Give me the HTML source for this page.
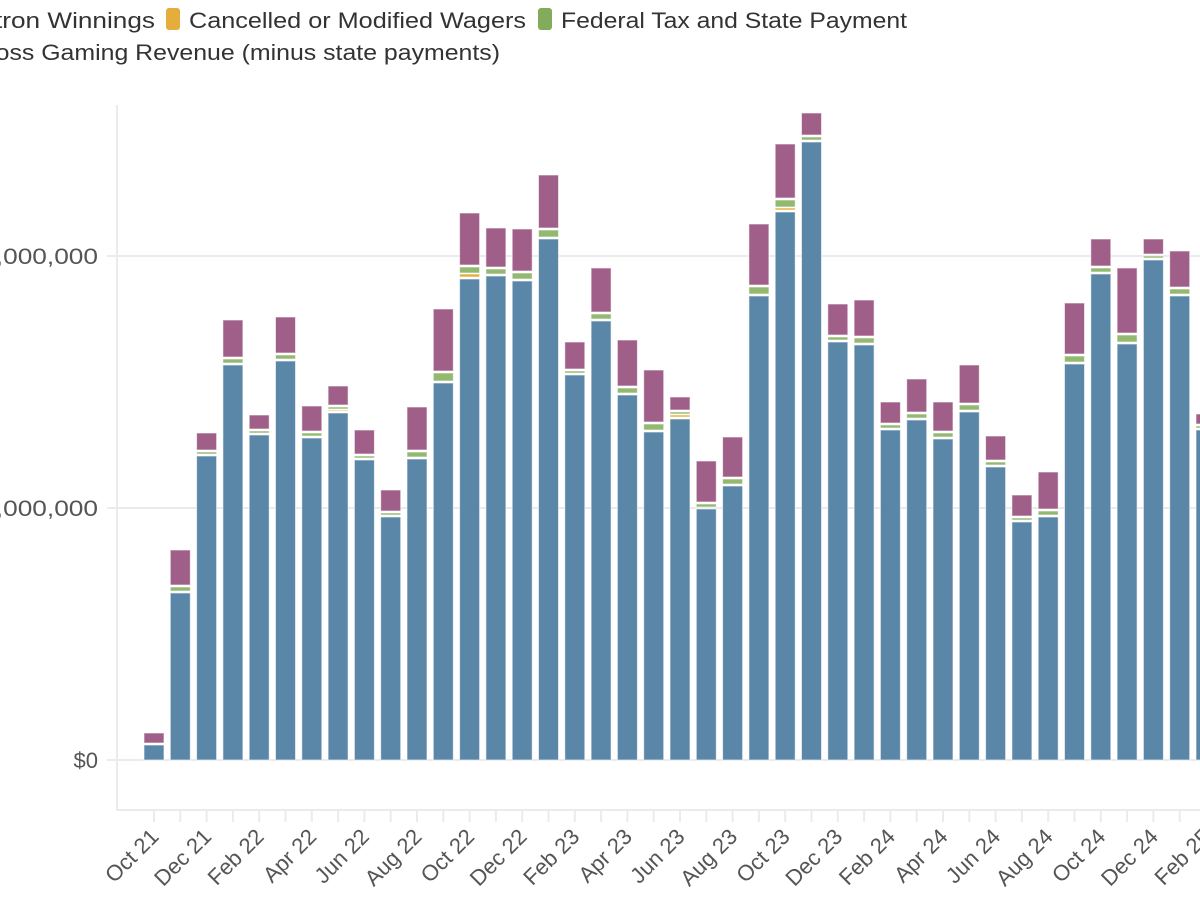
<!DOCTYPE html>
<html><head><meta charset="utf-8"><style>
html,body{margin:0;padding:0;background:#fff;overflow:hidden}
svg{display:block;font-family:"Liberation Sans",sans-serif}
</style></head><body>
<svg id="s" width="1200" height="900" viewBox="0 0 1200 900" xmlns="http://www.w3.org/2000/svg">
<rect width="1200" height="900" fill="#fff"/>
<g stroke="#ebebeb" stroke-width="2">
<line x1="107" y1="256" x2="1200" y2="256"/>
<line x1="107" y1="508" x2="1200" y2="508"/>
<line x1="107" y1="760" x2="1200" y2="760"/>
<line x1="117" y1="105" x2="117" y2="811"/>
<line x1="116" y1="810" x2="1200" y2="810"/>
</g>
<g font-size="22" fill="#555" text-anchor="end">
<text x="98" y="768">$0</text>
<text x="98" y="516" textLength="146" lengthAdjust="spacingAndGlyphs">$10,000,000</text>
<text x="98" y="264" textLength="146" lengthAdjust="spacingAndGlyphs">$20,000,000</text>
</g>
<g font-size="22" fill="#333">
<rect x="-20" y="8" width="13" height="22" rx="3" fill="#a05f88"/>
<text x="155" y="28" text-anchor="end" textLength="192" lengthAdjust="spacingAndGlyphs">Patron Winnings</text>
<rect x="166" y="8" width="14" height="22" rx="3" fill="#e5ad3c"/>
<text x="189" y="28" textLength="337" lengthAdjust="spacingAndGlyphs">Cancelled or Modified Wagers</text>
<rect x="538" y="8" width="14" height="22" rx="3" fill="#82ac5b"/>
<text x="561" y="28" textLength="346" lengthAdjust="spacingAndGlyphs">Federal Tax and State Payment</text>
<text x="500" y="60" text-anchor="end" textLength="532" lengthAdjust="spacingAndGlyphs">Gross Gaming Revenue (minus state payments)</text>
</g>
<g id="bars"></g>
<g id="ax"></g>
</svg>
<script>
var d=[[745,733,0,0],[593,550,4,0],[456,433,2,0],[365,320,4,0],[435,415,2,0],[361,317,4,0],[438,406,3,0],[413,386,2,1],[460,430,2,0],[517,490,2,0],[459,407,5,0],[383,309,8,0],[279,213,6,3],[276,228,5,0],[281,229,6,0],[239,175,7,0],[375,342,2,0],[321,268,5,0],[395,340,5,0],[432,370,6,0],[419,397,2,2],[509,461,3,0],[486,437,5,0],[296,224,7,0],[212,144,7,2],[142,113,3,0],[342,304,3,0],[345,300,5,0],[430,402,3,0],[420,379,4,0],[439,402,4,0],[412,365,5,0],[467,436,3,0],[522,495,2,0],[517,472,4,0],[364,303,6,0],[274,239,4,0],[344,268,7,0],[260,239,2,0],[296,251,5,0],[430,414,2,0]];
var names=["Jan","Feb","Mar","Apr","May","Jun","Jul","Aug","Sep","Oct","Nov","Dec"];
var ns="http://www.w3.org/2000/svg",g=document.getElementById("bars"),ax=document.getElementById("ax");
function r(x,y,w,h,c){if(h<=0)return;var e=document.createElementNS(ns,"rect");e.setAttribute("x",x);e.setAttribute("y",y);e.setAttribute("width",w);e.setAttribute("height",h);e.setAttribute("fill",c);e.setAttribute("stroke","#fff");e.setAttribute("stroke-opacity","0.6");e.setAttribute("stroke-width","1");g.appendChild(e);}
d.forEach(function(v,i){
 var cx=154+i*26.3,x=cx-10,B=v[0],P=v[1],G=v[2],Y=v[3];
 r(x,B,20,760-B,"#5a87a8");
 var t=B-2;
 if(Y){r(x,t-Y,20,Y,"#e5ad3c");t=t-Y-1;}
 if(G){r(x,t-G,20,G,"#93b86f");t=t-G-2;}
 r(x,P,20,t-P,"#a05f88");
 var l=document.createElementNS(ns,"line");l.setAttribute("x1",cx);l.setAttribute("x2",cx);l.setAttribute("y1",810);l.setAttribute("y2",822);l.setAttribute("stroke","#ebebeb");l.setAttribute("stroke-width","2");ax.appendChild(l);
 if(i%2==0){var mi=(9+i)%12,yr=21+Math.floor((9+i)/12);
  var tx=document.createElementNS(ns,"text");tx.setAttribute("transform","translate("+(cx+6)+",838) rotate(-45)");tx.setAttribute("text-anchor","end");tx.setAttribute("font-size","22");tx.setAttribute("fill","#555");
  tx.textContent=names[mi]+" "+yr;ax.appendChild(tx);}
});
</script>
</body></html>
